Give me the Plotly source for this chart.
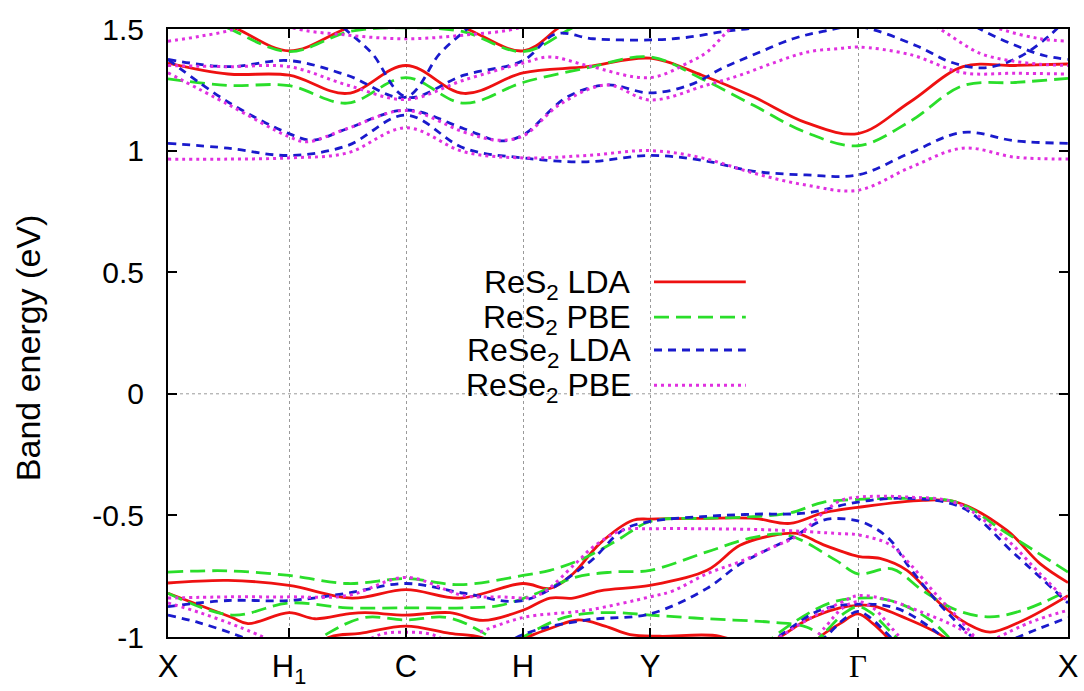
import plotly.graph_objects as go

# ---------------- data ----------------
K_LABELS = ["X", "H<sub>1</sub>", "C", "H", "Y",
            "<span style='font-family:Liberation Serif'>Γ</span>", "X"]
K_POS = [0, 121, 238, 355, 482, 690, 900]
GRID = [0, 60, 121, 179, 238, 296, 355, 419, 482, 534, 586, 638, 690, 742, 795, 847, 900]

Y_TICKS = [-1, -0.5, 0, 0.5, 1, 1.5]
Y_TICKTEXT = ["-1", "-0.5", "0", "0.5", "1", "1.5"]

SERIES_NAMES = ["ReS<sub>2</sub> LDA", "ReS<sub>2</sub> PBE",
                "ReSe<sub>2</sub> LDA", "ReSe<sub>2</sub> PBE"]

# ReS2 LDA bands: (k, E)
RES2_LDA = [
    (GRID, [1.36, 1.315, 1.31, 1.235, 1.35, 1.235, 1.32, 1.345, 1.38, 1.31, 1.22, 1.115, 1.07, 1.20, 1.345, 1.35, 1.356]),
    ([0, 32, 69, 121, 177, 238, 299, 355, 389, 432],
     [1.62, 1.56, 1.5, 1.41, 1.5, 1.6, 1.5, 1.41, 1.5, 1.65]),
    ([0, 60, 121, 184, 238, 292, 355, 382, 405, 432, 465, 482, 534, 586, 622, 655, 690, 755, 789, 839, 872, 900],
     [-0.778, -0.767, -0.788, -0.84, -0.805, -0.84, -0.78, -0.80, -0.74, -0.615, -0.52, -0.515, -0.512, -0.512, -0.533, -0.49, -0.467, -0.438, -0.446, -0.562, -0.698, -0.776]),
    ([0, 64, 80, 121, 147, 180, 197, 238, 282, 315, 355, 382, 405, 432, 482, 539, 572, 605, 629, 655, 690, 712, 739, 772, 799, 822, 855, 900],
     [-0.82, -0.92, -0.945, -0.90, -0.925, -0.905, -0.90, -0.91, -0.90, -0.932, -0.89, -0.84, -0.84, -0.81, -0.788, -0.726, -0.623, -0.582, -0.574, -0.62, -0.668, -0.677, -0.726, -0.862, -0.945, -0.98, -0.932, -0.83]),
    ([122, 162, 192, 238, 282, 312, 332, 382, 410, 437, 462, 492, 552, 582],
     [-1.1, -1.0, -0.985, -0.955, -0.985, -1.0, -1.03, -0.965, -0.93, -0.955, -0.99, -0.997, -0.997, -1.05]),
    ([572, 612, 639, 672, 690, 705, 739, 772, 807],
     [-1.1, -1.0, -0.93, -0.88, -0.87, -0.872, -0.925, -0.99, -1.1]),
    ([632, 652, 672, 690, 705, 719, 742],
     [-1.1, -1.0, -0.945, -0.905, -0.945, -1.0, -1.1]),
]

# ReS2 PBE bands
RES2_PBE = [
    (GRID, [1.295, 1.268, 1.267, 1.195, 1.30, 1.195, 1.28, 1.34, 1.385, 1.295, 1.185, 1.075, 1.02, 1.12, 1.267, 1.28, 1.297]),
    ([0, 32, 62, 121, 182, 238, 294, 355, 402, 452],
     [1.62, 1.56, 1.5, 1.407, 1.49, 1.505, 1.49, 1.407, 1.5, 1.62]),
    ([0, 60, 121, 180, 238, 292, 355, 382, 415, 449, 482, 534, 572, 622, 655, 690, 739, 789, 839, 900],
     [-0.733, -0.728, -0.747, -0.78, -0.76, -0.785, -0.747, -0.726, -0.678, -0.603, -0.525, -0.512, -0.508, -0.49, -0.446, -0.434, -0.43, -0.446, -0.574, -0.733]),
    ([0, 64, 121, 179, 238, 296, 332, 369, 407, 444, 482, 539, 586, 619, 668, 690, 724, 755, 789, 822, 855, 900],
     [-0.82, -0.91, -0.86, -0.88, -0.88, -0.88, -0.87, -0.82, -0.755, -0.733, -0.726, -0.65, -0.59, -0.58, -0.685, -0.74, -0.72, -0.81, -0.89, -0.917, -0.89, -0.81]),
    ([312, 355, 389, 415, 449, 482, 539, 605, 639, 672],
     [-1.1, -1.0, -0.93, -0.905, -0.90, -0.91, -0.925, -0.94, -0.96, -1.05]),
    ([122, 162, 197, 238, 279, 314, 352],
     [-1.1, -0.98, -0.92, -0.93, -0.92, -0.98, -1.1]),
    ([577, 622, 662, 690, 722, 762, 802],
     [-1.1, -0.95, -0.86, -0.84, -0.85, -0.93, -1.1]),
    ([627, 657, 677, 690, 703, 723, 753],
     [-1.1, -0.98, -0.9, -0.875, -0.9, -0.98, -1.1]),
]

# ReSe2 LDA bands
RESE2_LDA = [
    (GRID, [1.03, 1.01, 0.98, 1.02, 1.146, 1.01, 0.97, 0.954, 0.98, 0.96, 0.915, 0.90, 0.90, 0.99, 1.075, 1.04, 1.03]),
    ([0, 60, 121, 145, 179, 238, 296, 332, 355, 399, 439, 482, 522, 555, 589, 625, 655, 690, 749, 782, 815, 849, 882, 900],
     [1.375, 1.20, 1.07, 1.043, 1.09, 1.167, 1.09, 1.04, 1.064, 1.22, 1.27, 1.237, 1.27, 1.34, 1.40, 1.46, 1.49, 1.51, 1.43, 1.365, 1.34, 1.38, 1.475, 1.55]),
    ([0, 60, 121, 179, 238, 272, 299, 332],
     [1.375, 1.345, 1.37, 1.31, 1.22, 1.40, 1.50, 1.62]),
    ([144, 177, 204, 238, 296, 355, 388, 425, 482, 518, 556, 593, 632],
     [1.62, 1.50, 1.40, 1.22, 1.31, 1.37, 1.48, 1.46, 1.455, 1.465, 1.49, 1.51, 1.56]),
    ([772, 812, 849, 877, 900],
     [1.6, 1.5, 1.43, 1.39, 1.375]),
    ([0, 60, 121, 179, 238, 296, 355, 419, 455, 482, 534, 586, 638, 690, 742, 795, 847, 900],
     [-0.875, -0.85, -0.85, -0.82, -0.78, -0.82, -0.85, -0.70, -0.56, -0.525, -0.505, -0.495, -0.49, -0.445, -0.43, -0.47, -0.66, -0.86]),
    ([312, 355, 419, 482, 539, 572, 605, 625, 655, 679, 699, 722, 739, 765, 789, 817],
     [-1.1, -0.99, -0.93, -0.905, -0.80, -0.70, -0.63, -0.59, -0.52, -0.515, -0.535, -0.60, -0.70, -0.835, -0.94, -1.05]),
    ([0, 30, 64, 92], [-0.91, -0.94, -0.985, -1.03]),
    ([822, 862, 900], [-1.05, -0.98, -0.92]),
    ([577, 617, 652, 690, 727, 762, 802],
     [-1.1, -0.98, -0.89, -0.865, -0.88, -0.96, -1.1]),
    ([632, 660, 678, 690, 702, 720, 748],
     [-1.1, -0.99, -0.92, -0.895, -0.92, -0.99, -1.1]),
]

# ReSe2 PBE bands
RESE2_PBE = [
    (GRID, [0.965, 0.965, 0.97, 0.99, 1.094, 0.995, 0.97, 0.98, 1.00, 0.97, 0.907, 0.858, 0.837, 0.93, 1.01, 0.973, 0.965]),
    ([0, 60, 121, 139, 179, 238, 296, 329, 355, 392, 439, 482, 539, 572, 605, 639, 672, 690, 742, 795, 847, 900],
     [1.32, 1.19, 1.057, 1.036, 1.09, 1.165, 1.076, 1.043, 1.06, 1.19, 1.27, 1.208, 1.27, 1.31, 1.36, 1.405, 1.42, 1.426, 1.395, 1.32, 1.318, 1.315]),
    ([0, 60, 121, 179, 238, 296, 355, 382, 419, 482, 522, 539, 562, 592],
     [1.35, 1.345, 1.345, 1.27, 1.21, 1.29, 1.36, 1.385, 1.35, 1.30, 1.365, 1.405, 1.50, 1.6]),
    ([82, 121, 179, 238, 296, 355, 394],
     [1.6, 1.51, 1.475, 1.46, 1.475, 1.51, 1.6]),
    ([0, 32, 67, 102], [1.45, 1.47, 1.5, 1.56]),
    ([792, 832, 872, 900], [1.56, 1.5, 1.46, 1.45]),
    ([732, 772, 812, 842, 872, 900], [1.6, 1.5, 1.40, 1.37, 1.355, 1.35]),
    ([0, 60, 121, 179, 238, 296, 332, 369, 407, 425, 455, 482, 539, 605, 672, 690, 722, 742, 767, 792, 817],
     [-0.84, -0.835, -0.835, -0.83, -0.755, -0.83, -0.835, -0.83, -0.70, -0.63, -0.56, -0.555, -0.555, -0.56, -0.575, -0.58, -0.62, -0.70, -0.82, -0.93, -1.05]),
    ([312, 355, 419, 482, 505, 539, 572, 605, 629, 655, 672, 690, 742, 789, 839, 872, 900],
     [-0.98, -0.92, -0.89, -0.835, -0.81, -0.74, -0.69, -0.63, -0.585, -0.49, -0.44, -0.425, -0.425, -0.45, -0.60, -0.74, -0.855]),
    ([0, 32, 72, 112], [-0.86, -0.9, -0.96, -1.03]),
    ([817, 862, 900], [-1.03, -0.94, -0.89]),
    ([577, 612, 639, 672, 690, 722, 755, 789, 822],
     [-1.1, -1.0, -0.93, -0.86, -0.83, -0.85, -0.9, -0.96, -1.05]),
    ([627, 657, 675, 690, 705, 723, 753],
     [-1.1, -0.96, -0.88, -0.855, -0.88, -0.96, -1.1]),
    ([185, 212, 238, 264, 291],
     [-1.05, -0.99, -0.98, -0.99, -1.05]),
]

# ---------------- styles ----------------
STYLES = [
    dict(color="#ee1111", width=2.8, dash="solid"),
    dict(color="#2ade2a", width=2.8, dash="15px,7px"),
    dict(color="#1a1acc", width=2.8, dash="8px,6px"),
    dict(color="#e030e0", width=3.0, dash="3px,4px"),
]
ALL_SERIES = [RES2_LDA, RES2_PBE, RESE2_LDA, RESE2_PBE]

fig = go.Figure()
for bands, style in zip(ALL_SERIES, STYLES):
    for k, e in bands:
        fig.add_trace(go.Scatter(x=k, y=e, mode="lines",
                                 line=dict(shape="spline", smoothing=1.0, **style),
                                 showlegend=False, hoverinfo="skip"))

FONT = "Liberation Sans, Arial, sans-serif"
L, R, T, B = 168, 16, 29, 54
W, H = 1084, 691

fig.update_layout(
    width=W, height=H,
    margin=dict(l=L, r=R, t=T, b=B, pad=0, autoexpand=False),
    plot_bgcolor="white", paper_bgcolor="white",
    font=dict(family=FONT, size=30, color="black"),
)
fig.update_xaxes(
    range=[0, 900], tickmode="array", tickvals=K_POS, ticktext=K_LABELS,
    ticks="inside", ticklen=9, tickwidth=2, tickcolor="black",
    showline=True, linecolor="black", linewidth=2, mirror="ticks",
    showgrid=True, gridcolor="#9a9a9a", gridwidth=1, griddash="dot",
    zeroline=False, ticklabelstandoff=1, automargin=False,
    tickfont=dict(family=FONT, size=31),
)
fig.update_yaxes(
    range=[-1, 1.5], tickmode="array", tickvals=Y_TICKS, ticktext=Y_TICKTEXT,
    ticks="inside", ticklen=9, tickwidth=2, tickcolor="black",
    showline=True, linecolor="black", linewidth=2, mirror="ticks",
    showgrid=False, zeroline=False, ticklabelstandoff=16, automargin=False,
    tickfont=dict(family=FONT, size=30),
)
fig.add_hline(y=0, line=dict(color="#9a9a9a", width=1, dash="dot"), layer="below")

# y-axis title
fig.add_annotation(text="Band energy (eV)", xref="paper", yref="paper",
                   x=-0.156, y=0.476, textangle=-90, showarrow=False,
                   font=dict(family=FONT, size=34), xanchor="center", yanchor="middle")

# manual legend (text right-aligned, sample on the right)
LEG_Y = [0.584, 0.526, 0.472, 0.414]
for name, style, ly in zip(SERIES_NAMES, STYLES, LEG_Y):
    fig.add_annotation(text=name, xref="paper", yref="paper", x=0.517, y=ly - 0.004,
                       xanchor="right", yanchor="middle", showarrow=False,
                       font=dict(family=FONT, size=32))
    fig.add_shape(type="line", xref="paper", yref="paper",
                  x0=0.54, x1=0.642, y0=ly, y1=ly,
                  line=dict(color=style["color"], width=style["width"], dash=style["dash"]))

fig.write_html("out.html")
